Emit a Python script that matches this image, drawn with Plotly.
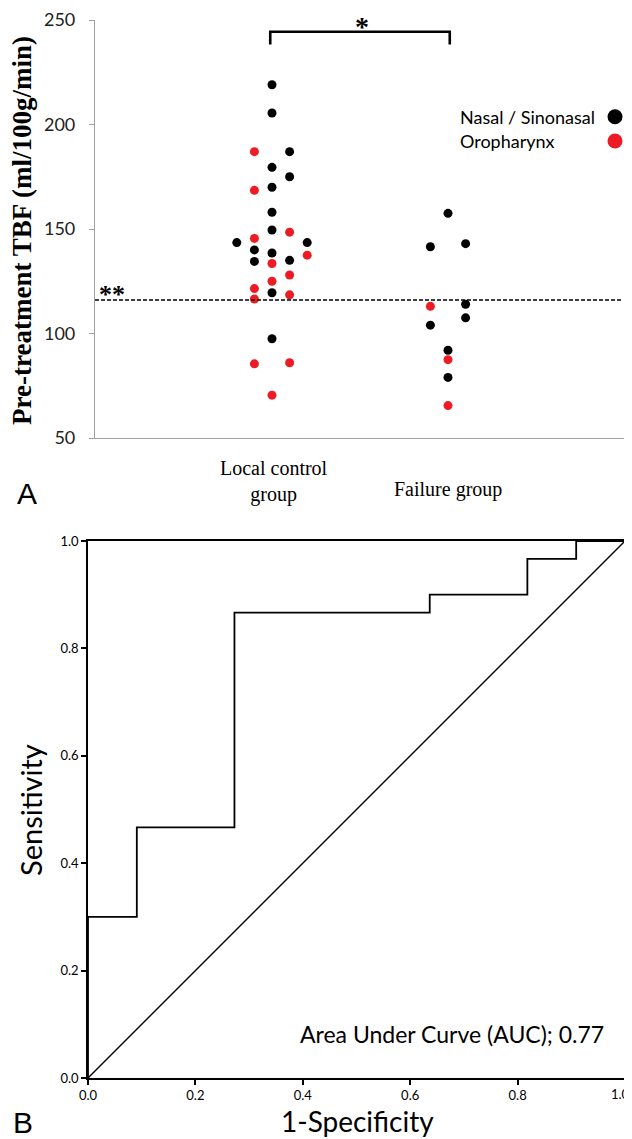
import plotly.graph_objects as go

# ---------------- data (panel A) ----------------
groups = ["Local control<br>group", "Failure group"]
group_pos = [1, 2]

local_nasal_tbf = [219, 205.5, 179.5, 170, 158, 149.5, 138.5, 119.5, 97.5, 140, 134.5, 187, 175, 135, 143.5, 143.5]
local_nasal_col = [0, 0, 0, 0, 0, 0, 0, 0, 0, -1, -1, 1, 1, 1, -2, 2]
local_oro_tbf = [133.5, 125, 70.5, 187, 168.5, 145.5, 121.5, 116.5, 85.5, 148.5, 128, 118.5, 86, 137.5]
local_oro_col = [0, 0, 0, -1, -1, -1, -1, -1, -1, 1, 1, 1, 1, 2]
fail_nasal_tbf = [157.5, 92, 79, 141.5, 104, 143, 114, 107.5]
fail_nasal_col = [0, 0, 0, -1, -1, 1, 1, 1]
fail_oro_tbf = [87.5, 65.5, 113]
fail_oro_col = [0, 0, -1]

cutoff_tbf = 116
y_ticks_a = [50, 100, 150, 200, 250]
series_names = ["Nasal / Sinonasal", "Oropharynx"]
series_colors = ["#000000", "#ED1C24"]

# ---------------- data (panel B: ROC) ----------------
roc_fpr = [0, 0, 1/11, 1/11, 3/11, 3/11, 7/11, 7/11, 9/11, 9/11, 10/11, 10/11, 1]
roc_tpr = [0, 9/30, 9/30, 14/30, 14/30, 26/30, 26/30, 27/30, 27/30, 29/30, 29/30, 1, 1]
auc_value = 0.77
b_ticks = [0.0, 0.2, 0.4, 0.6, 0.8, 1.0]
b_tick_text = ["0.0", "0.2", "0.4", "0.6", "0.8", "1.0"]

# page body has an 8px margin; size the figure so it fills the window
OFF = 8
W, H = 632 - OFF, 1139 - OFF
def px(x):
    return (x - OFF) / W
def py(y):
    return 1 - (y - OFF) / H

COL_STEP = 0.1
fig = go.Figure()

def add_group(vals, cols, gpos, color, name):
    fig.add_trace(go.Scatter(
        x=[gpos + c * COL_STEP for c in cols], y=vals, mode="markers",
        marker=dict(color=color, size=9, line=dict(width=0)),
        name=name, showlegend=False, xaxis="x", yaxis="y"))

add_group(local_nasal_tbf, local_nasal_col, group_pos[0], series_colors[0], series_names[0])
add_group(local_oro_tbf, local_oro_col, group_pos[0], series_colors[1], series_names[1])
add_group(fail_nasal_tbf, fail_nasal_col, group_pos[1], series_colors[0], series_names[0])
add_group(fail_oro_tbf, fail_oro_col, group_pos[1], series_colors[1], series_names[1])

# ROC curve + diagonal
fig.add_trace(go.Scatter(x=roc_fpr, y=roc_tpr, mode="lines",
                         line=dict(color="black", width=1.8), showlegend=False,
                         xaxis="x2", yaxis="y2"))
fig.add_trace(go.Scatter(x=[0, 1], y=[0, 1], mode="lines",
                         line=dict(color="black", width=1.4), showlegend=False,
                         xaxis="x2", yaxis="y2"))

xr0 = 1 - 177 / 176
xr1 = 2 + 184 / 176

shapes = []
# cutoff dashed line
shapes.append(dict(type="line", xref="x", yref="y", x0=xr0, x1=2.99,
                   y0=cutoff_tbf, y1=cutoff_tbf,
                   line=dict(color="black", width=1.5, dash="4px,2px")))
# significance bracket
shapes.append(dict(type="path", xref="x", yref="y",
                   path="M 0.99,238.3 L 0.99,244.4 L 2.01,244.4 L 2.01,238.3",
                   line=dict(color="black", width=2.6)))
# legend dots
for i, c in enumerate(series_colors):
    cy = 116.7 + i * 24.3
    shapes.append(dict(type="circle", xref="paper", yref="paper",
                       x0=px(615 - 7.5), x1=px(615 + 7.5),
                       y0=py(cy + 7.5), y1=py(cy - 7.5),
                       fillcolor=c, line=dict(width=0)))

annotations = []
for i, n in enumerate(series_names):
    annotations.append(dict(text=n, xref="paper", yref="paper",
                            x=px(458), y=py(116.7 + i * 24.3), xanchor="left", yanchor="middle",
                            showarrow=False, font=dict(family="Lato", size=18, color="black")))
# category labels
annotations.append(dict(text=groups[0], xref="x", yref="paper", x=group_pos[0] + 0.01, y=py(481),
                        xanchor="center", yanchor="middle", showarrow=False, align="center",
                        font=dict(family="Liberation Serif", size=20, color="black")))
annotations.append(dict(text=groups[1], xref="x", yref="paper", x=group_pos[1], y=py(489),
                        xanchor="center", yanchor="middle", showarrow=False,
                        font=dict(family="Liberation Serif", size=20, color="black")))
# stars
annotations.append(dict(text="<b>*</b>", xref="paper", yref="paper", x=px(362), y=py(27),
                        xanchor="center", yanchor="middle", showarrow=False,
                        font=dict(family="Liberation Serif", size=28, color="black")))
annotations.append(dict(text="<b>**</b>", xref="paper", yref="paper", x=px(97), y=py(294),
                        xanchor="left", yanchor="middle", showarrow=False,
                        font=dict(family="Liberation Serif", size=26, color="black")))
# y title panel A
annotations.append(dict(text="<b>Pre-treatment TBF (ml/100g/min)</b>", xref="paper", yref="paper",
                        x=px(22), y=py(231), textangle=-90, xanchor="center", yanchor="middle",
                        showarrow=False, font=dict(family="Liberation Serif", size=27, color="black")))
# panel letters
annotations.append(dict(text="A", xref="paper", yref="paper", x=px(27), y=py(493),
                        xanchor="center", yanchor="middle", showarrow=False,
                        font=dict(family="Liberation Sans", size=30, color="black")))
annotations.append(dict(text="B", xref="paper", yref="paper", x=px(23), y=py(1122),
                        xanchor="center", yanchor="middle", showarrow=False,
                        font=dict(family="Liberation Sans", size=30, color="black")))
# panel B titles
annotations.append(dict(text="Sensitivity", xref="paper", yref="paper", x=px(30), y=py(810),
                        textangle=-90, xanchor="center", yanchor="middle", showarrow=False,
                        font=dict(family="Lato", size=29, color="black")))
annotations.append(dict(text="1-Specificity", xref="paper", yref="paper", x=px(357), y=py(1121),
                        xanchor="center", yanchor="middle", showarrow=False,
                        font=dict(family="Lato", size=28, color="black")))
annotations.append(dict(text=f"Area Under Curve (AUC); {auc_value:.2f}", xref="paper", yref="paper",
                        x=px(606), y=py(1034), xanchor="right", yanchor="middle", showarrow=False,
                        font=dict(family="Lato", size=23, color="black")))
# last x tick label of panel B, kept inside the page edge
annotations.append(dict(text=b_tick_text[-1], xref="paper", yref="paper", x=1.0, y=py(1084),
                        xanchor="right", yanchor="top", showarrow=False,
                        font=dict(family="Lato", size=13, color="black")))

fig.update_layout(
    width=W, height=H, margin=dict(l=0, r=0, t=0, b=0, autoexpand=False),
    paper_bgcolor="white", plot_bgcolor="white", showlegend=False,
    xaxis=dict(domain=[px(95), 1.0], range=[xr0, xr1], showgrid=False, zeroline=False,
               showticklabels=False, ticks="", showline=True, linecolor="#a0a0a0", linewidth=1.2,
               anchor="y", automargin=False),
    yaxis=dict(domain=[py(438), py(20)], range=[50, 250], tickvals=y_ticks_a,
               showgrid=False, zeroline=False, showline=True, linecolor="#a0a0a0", linewidth=1.2,
               ticks="outside", ticklen=5, tickcolor="#a0a0a0", ticklabelstandoff=10,
               tickfont=dict(family="Lato", size=18, color="#222"), anchor="x", automargin=False),
    xaxis2=dict(domain=[px(88), px(625)], range=[0, 1], tickvals=b_ticks,
                ticktext=b_tick_text[:-1] + [""],
                showgrid=False, zeroline=False, showline=True, linecolor="black", linewidth=1.5,
                mirror=True, ticks="outside", ticklen=5, tickcolor="black", tickwidth=1.5,
                tickfont=dict(family="Lato", size=13, color="black"), anchor="y2", automargin=False),
    yaxis2=dict(domain=[py(1078), py(541)], range=[0, 1], tickvals=b_ticks, ticktext=b_tick_text,
                showgrid=False, zeroline=False, showline=True, linecolor="black", linewidth=1.5,
                mirror=True, ticks="outside", ticklen=5, tickcolor="black", tickwidth=1.5,
                ticklabeloverflow="allow",
                tickfont=dict(family="Lato", size=13, color="black"), anchor="x2", automargin=False),
    shapes=shapes, annotations=annotations,
)

fig.write_html("out.html")
